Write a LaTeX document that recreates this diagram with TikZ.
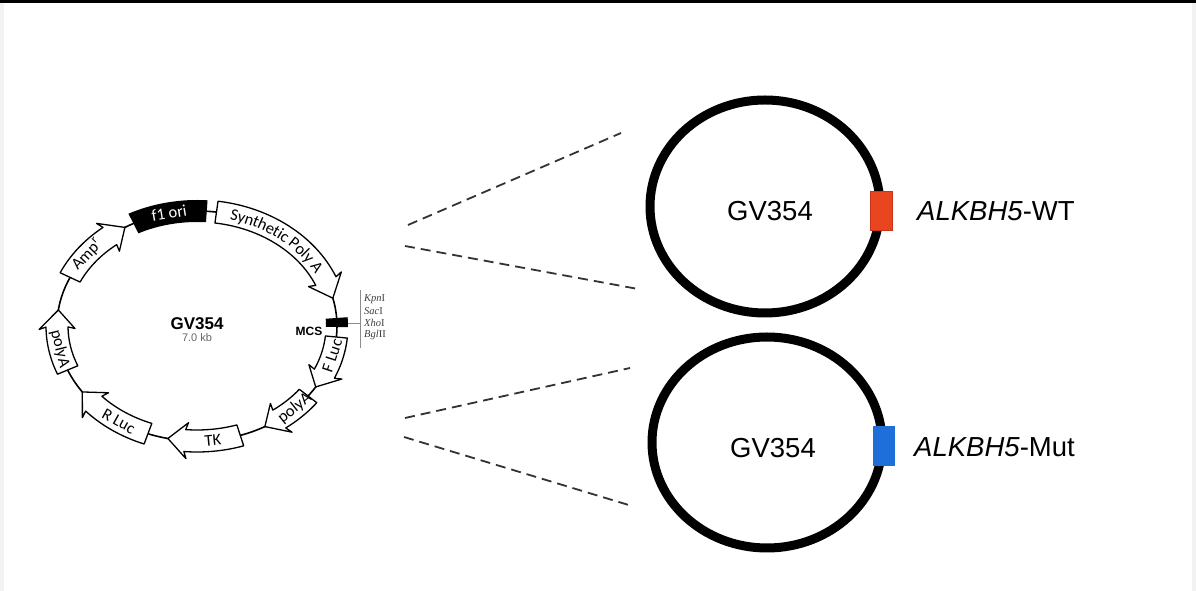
\documentclass[tikz,border=0pt]{standalone}
\usepackage{fontspec}
\setmainfont{Liberation Sans}
\newfontfamily\calfont{Carlito}
\newfontfamily\serfont{Liberation Serif}
\usetikzlibrary{decorations.text}

\definecolor{wtred}{HTML}{E9451F}
\definecolor{wtredd}{HTML}{C8331A}
\definecolor{mutblue}{HTML}{1E6FD9}

% feature arrow on the plasmid ellipse (rx=140, ry=115)
\newcommand\plarrow[7]{% #1 name, #2 tail, #3 head base, #4 tip, #5 label t, #6 reading 1=cw 0=ccw, #7 label
  \pgfmathsetmacro\plbk{#3+(#2>#3 ? 1 : -1)}
  \draw[feat] (#2:151pt and 126pt) arc[start angle=#2, end angle=#3, x radius=151pt, y radius=126pt]
     -- (\plbk:158pt and 133pt) -- (#4:140pt and 115pt) -- (\plbk:122pt and 97pt) -- (#3:129pt and 104pt)
     arc[start angle=#3, end angle=#2, x radius=129pt, y radius=104pt] -- cycle;
  \ifnum#6=1
    \pgfmathsetmacro\plang{atan2(-115*cos(#5),140*sin(#5))}
  \else
    \pgfmathsetmacro\plang{atan2(115*cos(#5),-140*sin(#5))}
  \fi
  \node[flab, rotate=\plang] (#1) at (#5:140pt and 115pt) {#7};
}

\begin{document}
\begin{tikzpicture}[x=1pt,y=1pt,
  feat/.style={draw=black, fill=white, line width=1.3pt, line join=round},
  bbone/.style={draw=black, line width=1.6pt},
  flab/.style={font=\calfont\fontsize{16.5}{16.5}\selectfont, inner sep=0pt},
  ring/.style={draw=black, line width=9pt},
  zoomln/.style={draw=black!80, line width=1.8pt, dash pattern=on 10pt off 6pt},
  bigtxt/.style={font=\fontsize{27.5}{30}\selectfont, inner sep=0pt},
  enz/.style={font=\serfont\fontsize{10.5}{11}\selectfont, text=black!75, inner sep=0pt, anchor=west},
]
\useasboundingbox (0,0) rectangle (1196,591);
\fill[black!5] (0,0) rectangle (1196,591);
\fill[white] (4,0) rectangle (1192,588);
\fill[black] (0,588) rectangle (1196,591);

% ---------- plasmid map ----------
\begin{scope}[shift={(197,265)}]
  \draw[bbone] (0,0) ellipse[x radius=140pt, y radius=115pt];
  % f1 ori
  \fill[black] (117:151pt and 126pt) arc[start angle=117, end angle=86, x radius=151pt, y radius=126pt]
     -- (86:129pt and 104pt) arc[start angle=86, end angle=117, x radius=129pt, y radius=104pt] -- cycle;
  \pgfmathsetmacro\fang{atan2(-115*cos(101.5),140*sin(101.5))}
  \node[flab, text=white, rotate=\fang] (f1ori) at (101.5:140pt and 115pt) {f1 ori};
  % Synthetic Poly A
  \draw[feat] (82:151pt and 126pt) arc[start angle=82, end angle=23, x radius=151pt, y radius=126pt]
     -- (24:158pt and 133pt) -- (14:140pt and 115pt) -- (24:122pt and 97pt) -- (23:129pt and 104pt)
     arc[start angle=23, end angle=82, x radius=129pt, y radius=104pt] -- cycle;
  \path[decorate, decoration={text along path, text align=center, raise=-5.5pt,
     text={|\calfont\fontsize{16.5}{16.5}\selectfont|Synthetic Poly A}}]
     (81:140pt and 115pt) arc[start angle=81, end angle=23, x radius=140pt, y radius=115pt];
  % other features
  \plarrow{fluc}{-5.5}{-24.5}{-32}{-15}{0}{F Luc}
  \plarrow{polyar}{-37.5}{-54}{-61}{-45.75}{0}{polyA}
  \plarrow{tk}{-72}{-95}{-102}{-83.5}{0}{TK}
  \plarrow{rluc}{-110.5}{-137.5}{-145}{-124}{0}{R Luc}
  \plarrow{polyal}{202.5}{180.5}{172}{191.5}{0}{polyA}
  \plarrow{amp}{155}{128.5}{121}{141.75}{1}{Amp\textsuperscript{r}}
  % MCS
  \fill[black] (4:151pt and 126pt) arc[start angle=4, end angle=-0.5, x radius=151pt, y radius=126pt]
     -- (-0.5:129pt and 104pt) arc[start angle=-0.5, end angle=4, x radius=129pt, y radius=104pt] -- cycle;
  \node[font=\bfseries\fontsize{17}{17}\selectfont, inner sep=0pt] (plname) at (0,2) {GV354};
  \node[font=\fontsize{11}{11}\selectfont, text=black!60, inner sep=0pt] (plsize) at (0,-11.5) {7.0 kb};
\end{scope}
\node[font=\bfseries\fontsize{12}{12}\selectfont, inner sep=0pt] (mcs) at (309,260) {MCS};
\coordinate (tickA) at (348,268);
\coordinate (tickB) at (360,268);
\coordinate (vtop) at (360,301);
\coordinate (vbot) at (360,243);
\draw[black!45, line width=0.9pt] (tickA) -- (tickB);
\draw[black!45, line width=0.9pt] (vtop) -- (vbot);
\node[enz] (kpn) at (364,292) {{\itshape Kpn}I};
\node[enz] (sac) at (364,280) {{\itshape Sac}I};
\node[enz] (xho) at (364,268) {{\itshape Xho}I};
\node[enz] (bgl) at (364,256) {{\itshape Bgl}II};

% ---------- zoom lines ----------
\coordinate (d1a) at (408,366); \coordinate (d1b) at (621,458);
\coordinate (d2a) at (405,345); \coordinate (d2b) at (638,302);
\coordinate (d3a) at (405,173); \coordinate (d3b) at (630,223);
\coordinate (d4a) at (404,154); \coordinate (d4b) at (632,85);
\draw[zoomln] (d1a) -- (d1b);
\draw[zoomln] (d2a) -- (d2b);
\draw[zoomln] (d3a) -- (d3b);
\draw[zoomln] (d4a) -- (d4b);

% ---------- constructs ----------
\draw[ring] (765,384.5) ellipse[x radius=115pt, y radius=106.5pt];
\draw[ring] (767,148.5) ellipse[x radius=115pt, y radius=105.5pt];
\node[bigtxt] (gvtop) at (770,380) {GV354};
\node[bigtxt] (gvbot) at (773,143) {GV354};
\node[fill=wtred, draw=wtredd, line width=0.8pt, minimum width=22pt, minimum height=39pt, inner sep=0pt] (wtbox) at (881,380.5) {};
\node[fill=mutblue, minimum width=22pt, minimum height=40pt, inner sep=0pt] (mutbox) at (884,145) {};
\node[bigtxt, anchor=west] (wtlab) at (917,380) {\textit{ALKBH5}-WT};
\node[bigtxt, anchor=west] (mutlab) at (914,144) {\textit{ALKBH5}-Mut};
\end{tikzpicture}
\end{document}
